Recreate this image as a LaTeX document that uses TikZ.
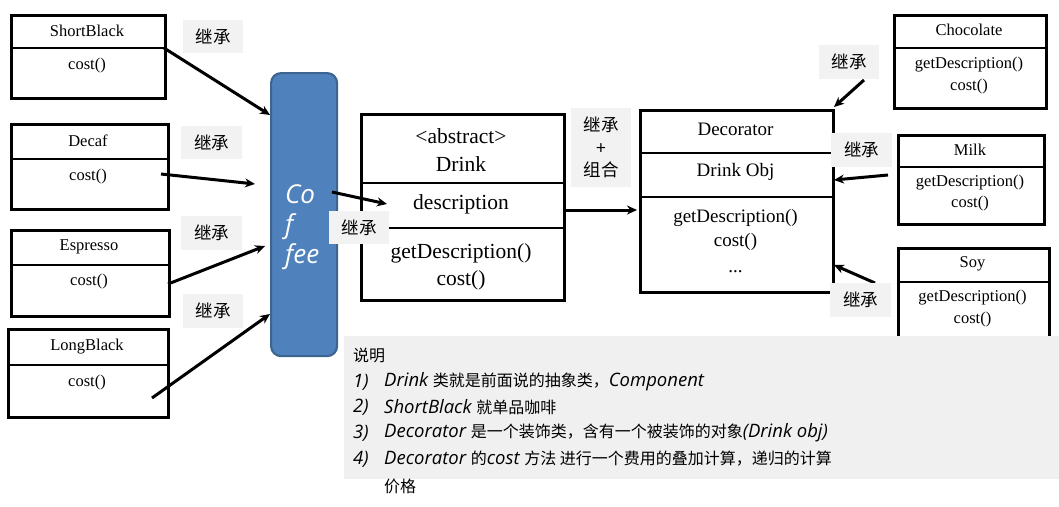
\documentclass[tikz,border=0pt]{standalone}
\usepackage{fontspec}
\setmainfont{Liberation Serif}
\newfontfamily\cjk{Noto Sans CJK SC}
\newfontfamily\hand{Open Sans}
\usetikzlibrary{arrows.meta}
\definecolor{lblgray}{HTML}{F2F2F2}
\definecolor{notegray}{HTML}{F0F0F0}
\definecolor{coffeeblue}{HTML}{4F81BD}
\definecolor{coffeeborder}{HTML}{3C6591}
\tikzset{
  umlbox/.style={draw, line width=2.5pt, inner sep=0, anchor=north west},
  divider/.style={line width=2.8pt},
  tsmall/.style={inner sep=0, font=\fontsize{16.5}{19}\selectfont},
  tdeco/.style={inner sep=0, font=\fontsize{19}{22}\selectfont},
  tdrink/.style={inner sep=0, font=\fontsize{21.5}{24}\selectfont},
  lbl/.style={fill=lblgray, inner sep=0, minimum width=60, minimum height=33, font=\cjk\fontsize{17.5}{20}\selectfont},
  arr/.style={-{Stealth[length=10pt,width=9pt]}, line width=3pt},
  note/.style={inner sep=0, anchor=west, font=\fontsize{18.5}{20}\selectfont},
}
\newcommand{\hd}[1]{{\hand\itshape #1}}
\newcommand{\cj}[1]{{\cjk\fontsize{16}{20}\selectfont #1}}
\begin{document}
\begin{tikzpicture}[x=1pt,y=-1pt]
\useasboundingbox (0,0) rectangle (1059,506);
% left boxes
\node[umlbox, minimum width=154, minimum height=83] (sb) at (10,14) {};
\draw[divider] (sb.west |- 0,48) -- (sb.east |- 0,48);
\node[tsmall] (sbT) at (87,31) {ShortBlack};
\node[tsmall] (sbC) at (87,66) {cost()};

\node[umlbox, minimum width=157, minimum height=85] (dc) at (10,123) {};
\draw[divider] (dc.west |- 0,159) -- (dc.east |- 0,159);
\node[tsmall] (dcT) at (88,141) {Decaf};
\node[tsmall] (dcC) at (88,177) {cost()};

\node[umlbox, minimum width=158, minimum height=86] (es) at (10,229) {};
\draw[divider] (es.west |- 0,265) -- (es.east |- 0,265);
\node[tsmall] (esT) at (89,247) {Espresso};
\node[tsmall] (esC) at (89,282) {cost()};

\node[umlbox, minimum width=160, minimum height=88] (lb) at (7,328) {};
\draw[divider] (lb.west |- 0,365) -- (lb.east |- 0,365);
\node[tsmall] (lbT) at (87,347) {LongBlack};
\node[tsmall] (lbC) at (87,383) {cost()};

% coffee
\node[draw=coffeeborder, fill=coffeeblue, line width=2.2pt, rounded corners=10pt, minimum width=66, minimum height=283, anchor=north west, inner sep=0] (coffee) at (270,72) {};
\node[inner sep=0, anchor=west, align=left, text=white, font=\hand\itshape\fontsize{26}{30}\selectfont] (coffeeT) at (285,227) {Co\\f\\fee};

% Drink
\node[umlbox, minimum width=203, minimum height=186] (dr) at (360,113) {};
\draw[divider] (dr.west |- 0,183) -- (dr.east |- 0,183);
\draw[divider] (dr.west |- 0,228) -- (dr.east |- 0,228);
\node[tdrink] (drA) at (461,136) {<abstract>};
\node[tdrink] (drN) at (461,164) {Drink};
\node[tdrink] (drD) at (461,204) {description};
\node[tdrink] (drG) at (461,253) {getDescription()};
\node[tdrink] (drC) at (461,280) {cost()};

% Decorator
\node[umlbox, minimum width=193, minimum height=182] (de) at (639,109) {};
\draw[divider] (de.west |- 0,153) -- (de.east |- 0,153);
\draw[divider] (de.west |- 0,197) -- (de.east |- 0,197);
\node[tdeco] (deN) at (735.5,129) {Decorator};
\node[tdeco] (deO) at (735.5,172) {Drink Obj};
\node[tdeco] (deG) at (735.5,218) {getDescription()};
\node[tdeco] (deC) at (735.5,242) {cost()};
\node[tdeco, anchor=base] (deE) at (735.5,272) {...};

% right boxes
\node[umlbox, minimum width=152, minimum height=93] (ch) at (893,14) {};
\draw[divider] (ch.west |- 0,48) -- (ch.east |- 0,48);
\node[tsmall] (chT) at (969,30) {Chocolate};
\node[tsmall] (chG) at (969,65) {getDescription()};
\node[tsmall] (chC) at (969,87) {cost()};

\node[umlbox, minimum width=146, minimum height=89] (mk) at (897,134) {};
\draw[divider] (mk.west |- 0,167) -- (mk.east |- 0,167);
\node[tsmall] (mkT) at (970,150) {Milk};
\node[tsmall] (mkG) at (970,183) {getDescription()};
\node[tsmall] (mkC) at (970,204) {cost()};

\node[umlbox, minimum width=151, minimum height=98] (sy) at (897,247) {};
\draw[divider] (sy.west |- 0,282) -- (sy.east |- 0,282);
\node[tsmall] (syT) at (972.5,264) {Soy};
\node[tsmall] (syG) at (972.5,298) {getDescription()};
\node[tsmall] (syC) at (972.5,320) {cost()};

% connector end points
\coordinate (p1) at (164,48);
\coordinate (q1) at (270,115);
\coordinate (p2) at (161,174);
\coordinate (q2) at (255,184);
\coordinate (p3) at (168,284);
\coordinate (q3) at (265,246);
\coordinate (p4) at (152,398);
\coordinate (q4) at (270,314);
\coordinate (p5) at (332,192);
\coordinate (q5) at (387,204);
\coordinate (p6) at (563,210);
\coordinate (q6) at (637,210);
\coordinate (p7) at (864,80);
\coordinate (q7) at (834,107);
\coordinate (p8) at (888,175);
\coordinate (q8) at (834,180);
\coordinate (p9) at (875,283);
\coordinate (q9) at (834,265);

\draw[arr] (p1) -- (q1);
\draw[arr] (p2) -- (q2);
\draw[arr] (p3) -- (q3);
\draw[arr] (p4) -- (q4);
\draw[arr] (p5) -- (q5);
\draw[arr] (p6) -- (q6);
\draw[arr] (p7) -- (q7);
\draw[arr] (p8) -- (q8);
\draw[arr] (p9) -- (q9);

% labels
\node[lbl] (l1) at (213,36.5) {继承};
\node[lbl, minimum width=61] (l2) at (211.5,142.5) {继承};
\node[lbl, minimum width=61, minimum height=34] (l3) at (211.5,233) {继承};
\node[lbl, minimum height=34] (l4) at (213,311) {继承};
\node[lbl] (l5) at (359,227.5) {继承};
\node[lbl, minimum height=79, align=center, font=\cjk\fontsize{17.5}{22.5}\selectfont] (l6) at (601,147.5) {继承\\+\\组合};
\node[lbl, minimum height=34] (l7) at (849,62) {继承};
\node[lbl, minimum width=61, minimum height=34] (l8) at (861.5,150) {继承};
\node[lbl, minimum width=61, minimum height=34] (l9) at (860.5,300) {继承};

% note
\node[fill=notegray, anchor=north west, minimum width=715, minimum height=143, inner sep=0] (nb) at (344,336) {};
\node[note] (n0) at (353,355) {\cj{说明}};
\node[note] (n1) at (353,382) {\hd{1)}};
\node[note] (n2) at (353,407) {\hd{2)}};
\node[note] (n3) at (353,433) {\hd{3)}};
\node[note] (n4) at (353,459) {\hd{4)}};
\node[note] (t1) at (384,382) {\hd{Drink} \cj{类就是前面说的抽象类，}\hd{Component}};
\node[note] (t2) at (384,407) {\hd{ShortBlack} \cj{就单品咖啡}};
\node[note] (t3) at (384,433) {\hd{Decorator} \cj{是一个装饰类，含有一个被装饰的对象}\hd{(Drink obj)}};
\node[note] (t4) at (384,459) {\hd{Decorator} \cj{的}\hd{cost} \cj{方法 进行一个费用的叠加计算，递归的计算}};
\node[note] (t5) at (384,486) {\cj{价格}};
\end{tikzpicture}
\end{document}
